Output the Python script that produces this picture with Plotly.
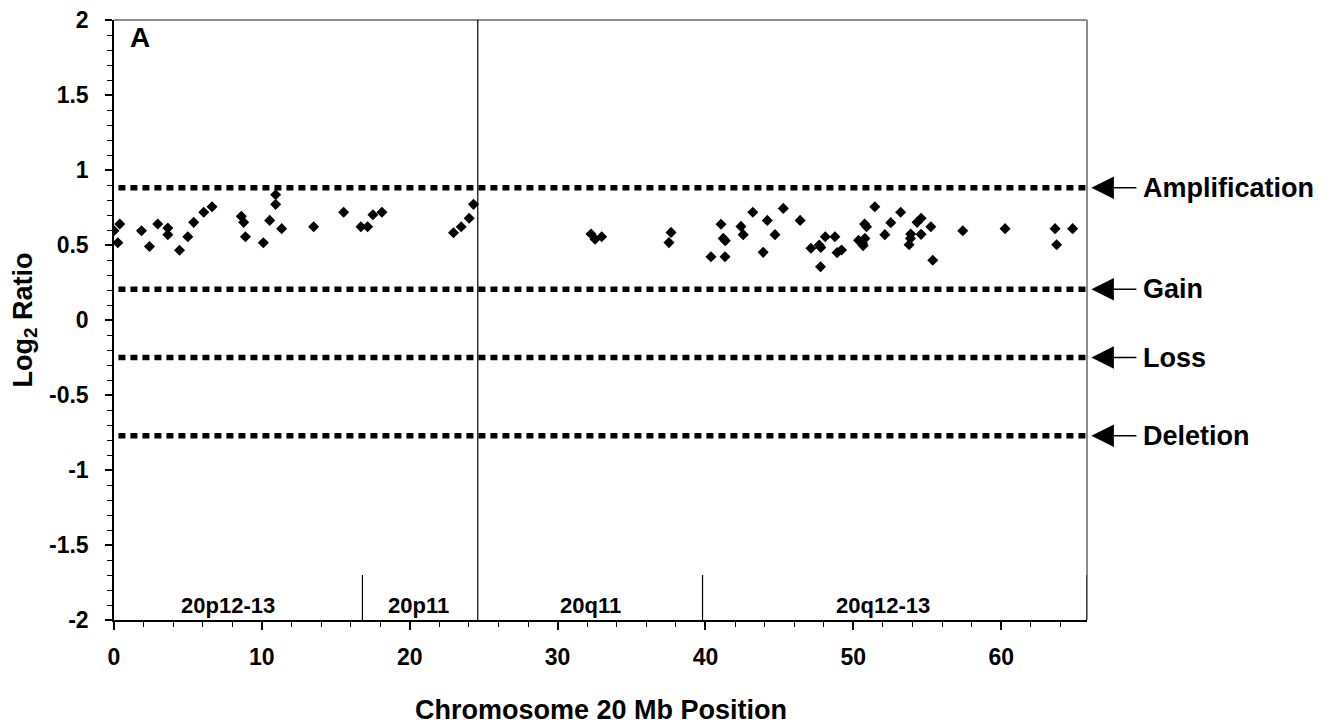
import plotly.graph_objects as go

# ---- data ----
pos_mb = [0.0, 0.26, 0.39, 1.86, 2.4, 2.96, 3.64, 3.64, 4.43, 4.99, 5.39, 6.07, 6.63,
          8.61, 8.77, 8.89, 10.1, 10.53, 10.93, 10.93, 11.34, 13.5, 15.53, 16.7, 17.15,
          17.51, 18.12, 22.96, 23.48, 24.02, 24.31,
          32.26, 32.53, 32.98, 37.67, 37.53,
          40.37, 41.05, 41.2, 41.34, 41.32, 42.4, 42.55, 43.2, 43.9, 44.18, 44.7, 45.26,
          46.4, 47.13, 47.78, 47.69, 47.8, 48.1, 48.75, 48.9, 49.2, 50.35, 50.62, 50.66,
          50.78, 50.76, 50.89, 51.45, 52.13, 52.53, 53.2, 53.77, 53.86, 53.88, 54.31,
          54.58, 54.58, 55.24, 55.37, 57.4, 60.26, 63.64, 63.75, 64.83]
log2_ratio = [0.595, 0.515, 0.64, 0.595, 0.49, 0.64, 0.613, 0.569, 0.465, 0.555, 0.651,
              0.718, 0.755, 0.691, 0.651, 0.555, 0.515, 0.664, 0.835, 0.771, 0.609, 0.622,
              0.718, 0.622, 0.622, 0.702, 0.718, 0.582, 0.622, 0.678, 0.771,
              0.573, 0.538, 0.555, 0.584, 0.516,
              0.422, 0.638, 0.544, 0.529, 0.422, 0.624, 0.569, 0.718, 0.451, 0.664, 0.569,
              0.744, 0.664, 0.478, 0.355, 0.5, 0.484, 0.555, 0.555, 0.449, 0.467, 0.531,
              0.511, 0.496, 0.544, 0.64, 0.622, 0.755, 0.569, 0.649, 0.718, 0.502, 0.544,
              0.573, 0.651, 0.678, 0.571, 0.622, 0.398, 0.595, 0.609, 0.609, 0.502, 0.609]

threshold_names = ["Amplification", "Gain", "Loss", "Deletion"]
threshold_levels = [0.882, 0.205, -0.25, -0.771]

band_names = ["20p12-13", "20p11", "20q11", "20q12-13"]
band_label_pos = [7.7, 20.6, 32.2, 52.0]
band_edges = [16.8, 39.8, 65.8]
centromere_mb = 24.6

x_tickvals = [0, 10, 20, 30, 40, 50, 60]
y_tickvals = [2, 1.5, 1, 0.5, 0, -0.5, -1, -1.5, -2]
y_ticktext = ["2", "1.5", "1", "0.5", "0", "-0.5", "-1", "-1.5", "-2"]

X_MIN, X_MAX = 0, 65.8
Y_MIN, Y_MAX = -2, 2
LINE_START = 0.3

FONT = "Liberation Sans, Arial, sans-serif"

fig = go.Figure()

# threshold dotted lines
for lvl in threshold_levels:
    fig.add_trace(go.Scatter(
        x=[LINE_START, X_MAX], y=[lvl, lvl], mode="lines",
        line=dict(color="black", width=5.5, dash="7px,5px"),
        hoverinfo="skip", showlegend=False))

# data points
fig.add_trace(go.Scatter(
    x=pos_mb, y=log2_ratio, mode="markers",
    marker=dict(symbol="diamond", size=8.5, color="black", line=dict(width=0)),
    showlegend=False))

shapes = []
# plot frame top/right (gray)
shapes.append(dict(type="line", xref="paper", yref="paper", x0=0, x1=1, y0=1, y1=1,
                   line=dict(color="#8c8c8c", width=2)))
shapes.append(dict(type="line", xref="paper", yref="paper", x0=1, x1=1, y0=0, y1=1,
                   line=dict(color="#8c8c8c", width=2)))
# centromere line
shapes.append(dict(type="line", xref="x", yref="y", x0=centromere_mb, x1=centromere_mb,
                   y0=Y_MIN, y1=Y_MAX, line=dict(color="black", width=1.2)))
# band dividers
for e in band_edges:
    shapes.append(dict(type="line", xref="x", yref="y", x0=e, x1=e,
                       y0=Y_MIN, y1=-1.7, line=dict(color="black", width=1.2)))

annotations = []
for name, xpos in zip(band_names, band_label_pos):
    annotations.append(dict(x=xpos, y=-1.9, xref="x", yref="y", text=name,
                            showarrow=False, xanchor="center", yanchor="middle",
                            font=dict(family=FONT, size=22, color="black", weight="bold")))

for name, lvl in zip(threshold_names, threshold_levels):
    annotations.append(dict(x=1.0045, y=lvl, xref="paper", yref="y", text=name,
                            showarrow=True, ax=45, ay=0, axref="pixel", ayref="pixel",
                            xanchor="left", yanchor="middle",
                            arrowhead=2, arrowsize=3, arrowwidth=1.5, arrowcolor="black",
                            borderpad=6,
                            font=dict(family=FONT, size=27, color="black", weight="bold")))

annotations.append(dict(x=0.027, y=0.971, xref="paper", yref="paper", text="A",
                        showarrow=False, xanchor="center", yanchor="middle",
                        font=dict(family=FONT, size=28, color="black", weight="bold")))
annotations.append(dict(x=0.5, y=-0.150, xref="paper", yref="paper",
                        text="Chromosome 20 Mb Position", showarrow=False,
                        xanchor="center", yanchor="middle",
                        font=dict(family=FONT, size=27, color="black", weight="bold")))
annotations.append(dict(x=-0.0919, y=0.5, xref="paper", yref="paper",
                        text="Log<sub>2</sub> Ratio", textangle=-90, showarrow=False,
                        xanchor="center", yanchor="middle",
                        font=dict(family=FONT, size=27, color="black", weight="bold")))

fig.update_layout(
    width=1336, height=724,
    margin=dict(l=114, r=249, t=20, b=104, autoexpand=False),
    paper_bgcolor="white", plot_bgcolor="white",
    shapes=shapes, annotations=annotations,
    showlegend=False,
)
fig.update_xaxes(
    range=[X_MIN, X_MAX], tickvals=x_tickvals, showgrid=False, zeroline=False,
    showline=True, linecolor="black", linewidth=1.5,
    ticks="outside", ticklen=8, tickwidth=1.5, tickcolor="black",
    ticklabelstandoff=8,
    tickfont=dict(family=FONT, size=23, color="black", weight="bold"),
    minor=dict(dtick=2, ticks="outside", ticklen=5, tickwidth=1.2, tickcolor="black"),
)
fig.update_yaxes(
    range=[Y_MIN, Y_MAX], tickvals=y_tickvals, ticktext=y_ticktext,
    showgrid=False, zeroline=False,
    showline=True, linecolor="black", linewidth=1.5,
    ticks="outside", ticklen=7, tickwidth=1.5, tickcolor="black",
    ticklabelstandoff=12,
    tickfont=dict(family=FONT, size=23, color="black", weight="bold"),
    minor=dict(dtick=0.1, ticks="outside", ticklen=5, tickwidth=1.2, tickcolor="black"),
)

fig.write_html("out.html")
